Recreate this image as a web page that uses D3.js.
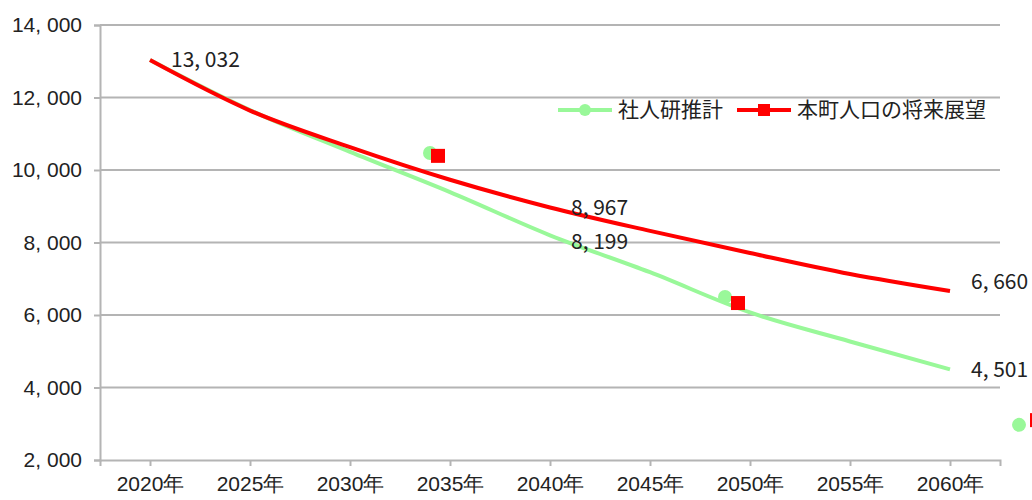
<!DOCTYPE html>
<html>
<head>
<meta charset="utf-8">
<script src="https://cdn.jsdelivr.net/npm/d3@7"></script>
<style>
  html, body { margin: 0; padding: 0; background: #fff; }
  svg { display: block; font-family: "Noto Sans CJK JP", "Noto Sans", sans-serif; }
</style>
</head>
<body>
<svg id="chart"></svg>
<script>
const years = ['2020年', '2025年', '2030年', '2035年', '2040年', '2045年', '2050年', '2055年', '2060年']
const ipssValues = [13032, 11650, 10500, 9390, 8199, 7180, 6070, 5270, 4501]
const townValues = [13032, 11640, 10630, 9730, 8967, 8320, 7710, 7130, 6660]
const yTicks = [2000, 4000, 6000, 8000, 10000, 12000, 14000]
const seriesNames = ['社人研推計', '本町人口の将来展望']

// labelled points: [series, index]
const labelled = [[1, 0], [1, 4], [0, 4], [1, 8], [0, 8]]
// small vertical nudges for those labels (px)
const labelNudge = [0, 0, 6, -9, 0]

// stray markers that sit off the lines (category index, value)
const strayIpss = [[2.80, 10470], [5.75, 6500], [8.69, 2970]]
const strayTown = [[2.88, 10390], [5.88, 6330], [8.87, 3100]]

const W = 1032, H = 500
const MARGIN = { top: 25, right: 32, bottom: 40, left: 100 }
const GREEN = '#99f899', RED = '#ff0000', GRID = '#b4b4b4'

const fmt = v => d3.format(',')(v).replace(',', ', ')

const svg = d3.select('#chart').attr('width', W).attr('height', H)
const innerW = W - MARGIN.left - MARGIN.right
const innerH = H - MARGIN.top - MARGIN.bottom
const g = svg.append('g').attr('transform', `translate(${MARGIN.left},${MARGIN.top})`)

const x = d3.scalePoint().domain(years).range([0, innerW]).padding(0.5)
const xi = d3.scaleLinear().domain([0, years.length - 1]).range([x(years[0]), x(years[years.length - 1])])
const y = d3.scaleLinear().domain([2000, 14000]).range([innerH, 0])

// grid
g.selectAll('.grid').data(yTicks.slice(1)).enter()
  .append('line')
  .attr('x1', 0).attr('x2', innerW)
  .attr('y1', d => y(d)).attr('y2', d => y(d))
  .attr('stroke', GRID).attr('stroke-width', 2)

// y axis
const yAxis = g.append('g')
  .call(d3.axisLeft(y).tickValues(yTicks).tickFormat(fmt).tickSize(6).tickPadding(12))
yAxis.select('.domain').attr('stroke', GRID).attr('stroke-width', 2)
yAxis.selectAll('.tick line').attr('stroke', GRID).attr('stroke-width', 2)
yAxis.selectAll('text').attr('font-size', 21).attr('fill', '#222').style('font-family', 'inherit')

// x axis
const xAxis = g.append('g').attr('transform', `translate(0,${innerH})`)
  .call(d3.axisBottom(x).tickSizeOuter(6).tickSize(6).tickPadding(10))
xAxis.select('.domain').attr('stroke', GRID).attr('stroke-width', 2)
xAxis.selectAll('.tick line').attr('stroke', GRID).attr('stroke-width', 2)
xAxis.selectAll('text').attr('font-size', 21).attr('fill', '#222').style('font-family', 'inherit')

// lines
const line = d3.line().x((d, i) => x(years[i])).y(d => y(d)).curve(d3.curveMonotoneX)
g.append('path').datum(ipssValues)
  .attr('fill', 'none').attr('stroke', GREEN).attr('stroke-width', 4).attr('d', line)
g.append('path').datum(townValues)
  .attr('fill', 'none').attr('stroke', RED).attr('stroke-width', 4).attr('d', line)

// stray markers
g.selectAll('.stray-c').data(strayIpss).enter()
  .append('circle')
  .attr('cx', d => xi(d[0])).attr('cy', d => y(d[1]))
  .attr('r', 7).attr('fill', GREEN)
g.selectAll('.stray-s').data(strayTown).enter()
  .append('rect')
  .attr('x', d => xi(d[0]) - 7).attr('y', d => y(d[1]) - 7)
  .attr('width', 14).attr('height', 14).attr('fill', RED)

// data labels
const all = [ipssValues, townValues]
g.selectAll('.lbl').data(labelled).enter()
  .append('text')
  .attr('x', d => x(years[d[1]]) + 21)
  .attr('y', (d, i) => y(all[d[0]][d[1]]) + labelNudge[i])
  .attr('dy', '0.35em')
  .attr('font-size', 21).attr('fill', '#222')
  .text(d => fmt(all[d[0]][d[1]]))

// legend
const legend = svg.append('g').attr('transform', 'translate(558,110)')
const items = legend.selectAll('.item').data(seriesNames).enter()
  .append('g').attr('transform', (d, i) => `translate(${i * 179},0)`)
items.append('line').attr('x1', 0).attr('x2', 54).attr('y1', 0).attr('y2', 0)
  .attr('stroke', (d, i) => i ? RED : GREEN).attr('stroke-width', 4)
items.filter((d, i) => i === 0).append('circle').attr('cx', 27).attr('cy', 0).attr('r', 6).attr('fill', GREEN)
items.filter((d, i) => i === 1).append('rect').attr('x', 21).attr('y', -6).attr('width', 12).attr('height', 12).attr('fill', RED)
items.append('text').attr('x', 60).attr('dy', '0.35em')
  .attr('font-size', 21).attr('fill', '#222')
  .text(d => d)
</script>
</body>
</html>
